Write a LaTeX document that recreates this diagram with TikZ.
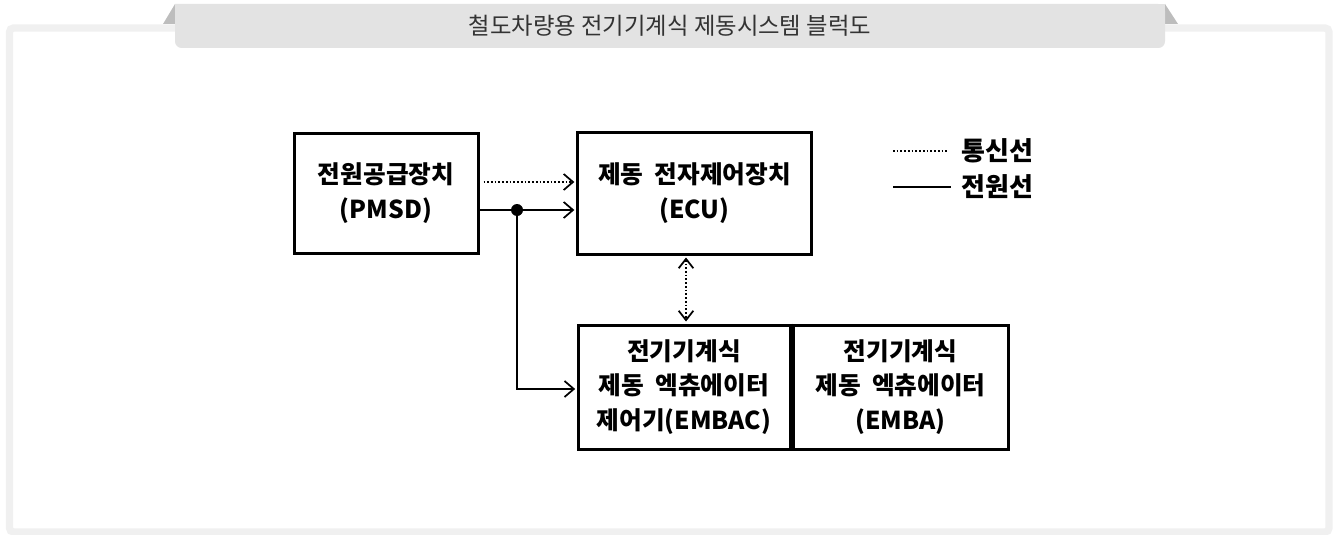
\documentclass[tikz,border=0pt]{standalone}
\usepackage{fontspec}
\setmainfont{Noto Sans CJK KR}
\usetikzlibrary{arrows.meta}
\definecolor{framegray}{HTML}{F0F0F0}
\definecolor{tabgray}{HTML}{E3E3E3}
\definecolor{trigray}{HTML}{BDBDBD}
\definecolor{titlecol}{HTML}{333333}
\tikzset{
  box/.style={draw=black, line width=2.25pt, fill=white, align=center,
    font=\bfseries\fontsize{18.5}{26}\selectfont, inner sep=0pt},
  power/.style={line width=1.5pt, draw=black},
  comm/.style={line width=1.5pt, draw=black, dash pattern=on 1.3pt off 1.5pt},
  tip/.style={-{Straight Barb[length=7pt,width=12pt,line width=1.3pt]}},
  dtip/.style={{Straight Barb[length=7pt,width=11pt,line width=1.3pt]}-{Straight Barb[length=7pt,width=11pt,line width=1.3pt]}},
  legendtext/.style={font=\bfseries\fontsize{19.5}{22}\selectfont, anchor=west, inner sep=0pt},
}
\begin{document}
\begin{tikzpicture}[x=0.75pt,y=-0.75pt]
\useasboundingbox (0,0) rectangle (1334,535);
% frame
\draw[framegray, line width=5.5pt, rounded corners=3pt] (9.5,28) rectangle (1329,532);
% tab triangles
\fill[trigray] (163,24) -- (175,4) -- (175,24) -- cycle;
\fill[trigray] (1165,4) -- (1178,24) -- (1165,24) -- cycle;
% tab
\fill[tabgray, rounded corners=5pt] (175,4) -- (175,48) -- (1165,48) -- (1165,4) [sharp corners] -- cycle;
\fill[tabgray] (175,4) rectangle (1165,14);
\node[text=titlecol, font=\fontsize{17.5}{20}\selectfont, inner sep=0pt] (title) at (670,26) {철도차량용 전기기계식 제동시스템 블럭도};
% boxes
\node[box, minimum width=138pt, minimum height=90pt] (pmsd) at (386,193) {전원공급장치\\(PMSD)};
\node[box, minimum width=176pt, minimum height=91.5pt] (ecu) at (694.5,193) {제동\ \ 전자제어장치\\(ECU)};
\node[box, minimum width=159pt, minimum height=93pt] (embac) at (684,387) {전기기계식\\제동\ \ 엑츄에이터\\제어기(EMBAC)};
\node[box, minimum width=161.25pt, minimum height=93pt, anchor=west] (emba) at (embac.east) {전기기계식\\제동\ \ 엑츄에이터\\(EMBA)};
\draw[line width=2.25pt] (embac.north east) -- (embac.south east);
% connectors
\coordinate (ycomm) at (0,182);
\coordinate (ypow) at (0,210);
\coordinate (J) at (517,210);
\coordinate (yact) at (0,389);
\coordinate (xv) at (686,0);
\draw[comm, tip] ([xshift=3pt]pmsd.east |- ycomm) -- ([xshift=-1pt]ecu.west |- ycomm);
\draw[power, tip] (pmsd.east |- ypow) -- ([xshift=-1pt]ecu.west |- ypow);
\draw[power, tip] (J) -- (J |- yact) -- ([xshift=-1pt]embac.west |- yact);
\fill (J) circle (4.5pt);
\draw[comm, dtip] ([yshift=-1.5pt]xv |- ecu.south) -- ([yshift=1.5pt]xv |- embac.north);
% legend
\coordinate (l1a) at (893,151);
\coordinate (l1b) at (948,151);
\coordinate (l2a) at (893,187);
\coordinate (l2b) at (951,187);
\draw[comm] (l1a) -- (l1b);
\draw[power, line width=2pt] (l2a) -- (l2b);
\node[legendtext] (lcomm) at (961,151) {통신선};
\node[legendtext] (lpow) at (961,187) {전원선};
\end{tikzpicture}
\end{document}
